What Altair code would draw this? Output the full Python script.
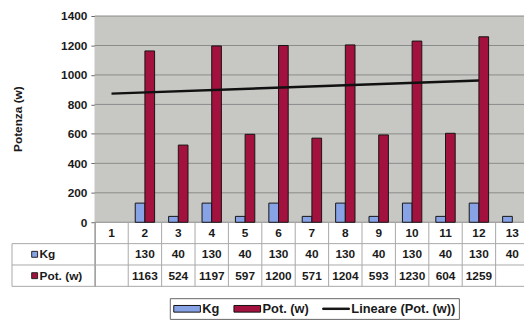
import altair as alt
import pandas as pd

# ---------------- data ----------------
categories = [1, 2, 3, 4, 5, 6, 7, 8, 9, 10, 11, 12, 13]
kg = [None, 130, 40, 130, 40, 130, 40, 130, 40, 130, 40, 130, 40]
pot = [None, 1163, 524, 1197, 597, 1200, 571, 1204, 593, 1230, 604, 1259, None]
y_ticks = [0, 200, 400, 600, 800, 1000, 1200, 1400]
series_names = ["Kg", "Pot. (w)", "Lineare (Pot. (w))"]
series_colors = ["#87a3e6", "#a3113f", "#111111"]
row_labels = ["Kg", "Pot. (w)"]

# ---------------- layout / style ----------------
FONT = "Liberation Sans"
PLOT_W = 435
PLOT_H = 274
X_MIN, X_MAX = 0.5, 13.35
Y_MIN, Y_MAX = -435, 1400
ROW = 145            # table row height in y units
HALF = 0.29          # bar width in category units
HEADER_LEFT = -1.98  # left edge of table header column (category units)
BG = "#c7c7c3"
GRID = "#8a8a8a"
TABLE_LINE = "#a8a8a8"

x_scale = alt.Scale(domain=[X_MIN, X_MAX], nice=False, zero=False)
y_scale = alt.Scale(domain=[Y_MIN, Y_MAX], nice=False, zero=False)
y_axis = alt.Axis(
    values=y_ticks, format="d", title="Potenza (w)", grid=False,
    domainColor="#8c8c8c", tickColor="#666666", tickSize=4, labelPadding=4,
    labelFont=FONT, labelFontSize=12, labelFontWeight="bold", labelColor="#1a1a1a",
    titleFont=FONT, titleFontSize=12, titleFontWeight="bold", titleColor="#1a1a1a",
    titleX=-71, titleY=104,
)
color_scale = alt.Scale(domain=series_names, range=series_colors)
legend = alt.Legend(
    orient="none", legendX=76, legendY=286, direction="horizontal", title=None,
    symbolType=alt.ExprRef(expr="datum.label == 'Lineare (Pot. (w))' ? 'M-2,-0.11H2V0.11H-2Z' : 'M-2,-0.5H2V0.5H-2Z'"),
    symbolSize=182, symbolStrokeColor="#111111", symbolStrokeWidth=1, symbolOpacity=1,
    symbolOffset=7, labelOffset=8,
    labelFont=FONT, labelFontSize=13, labelFontWeight="bold", labelColor="#1a1a1a",
    strokeColor="#666666", fillColor="white", padding=3, columnPadding=12,
)

def xq(field):
    return alt.X(field, type="quantitative", scale=x_scale, axis=None)

def yq(field):
    return alt.Y(field, type="quantitative", scale=y_scale, axis=y_axis)

# ---------------- tables ----------------
bars_df = pd.DataFrame({
    "cat": categories * 2,
    "value": kg + pot,
    "series": ["Kg"] * len(categories) + ["Pot. (w)"] * len(categories),
    "side": [-1] * len(categories) + [0] * len(categories),
})
pot_df = pd.DataFrame({"cat": categories, "pot": pot})

cells = []
for c, k, p in zip(categories, kg, pot):
    cells.append({"cat": c, "row": 0, "txt": str(c)})
    if k is not None:
        cells.append({"cat": c, "row": 1, "txt": str(k)})
    if p is not None:
        cells.append({"cat": c, "row": 2, "txt": str(p)})
cells_df = pd.DataFrame(cells)

header_df = pd.DataFrame({"series": row_labels, "row": [1, 2]})
vlines_df = pd.DataFrame({"xb": [c - 0.5 for c in categories] + [categories[-1] + 0.5]})
hlines_df = pd.DataFrame({"row": [1, 2, 3]})
grid_df = pd.DataFrame({"v": y_ticks})

# ---------------- layers ----------------
background = alt.Chart(pd.DataFrame({"a": [0]})).mark_rect(color=BG).encode(
    x=alt.value(0), x2=alt.value(PLOT_W),
    y=alt.Y(datum=Y_MAX, type="quantitative", scale=y_scale, axis=y_axis),
    y2=alt.Y2(datum=0),
)

grid = alt.Chart(grid_df).mark_rule(color=GRID, strokeWidth=1).encode(
    x=alt.value(0), x2=alt.value(PLOT_W), y=yq("v"),
)

bars = alt.Chart(bars_df).transform_filter("isValid(datum.value)").transform_calculate(
    x0=f"datum.cat + datum.side * {HALF}",
    x1=f"datum.cat + (datum.side + 1) * {HALF}",
).mark_bar(stroke="#141414", strokeWidth=1, opacity=1).encode(
    x=xq("x0"), x2="x1:Q",
    y=yq("value"), y2=alt.Y2(datum=0),
    color=alt.Color("series:N", scale=color_scale, legend=legend),
)

trend = alt.Chart(pot_df).transform_filter("isValid(datum.pot)").transform_regression(
    "cat", "pot", extent=[1, 12]
).mark_line(color="#111111", strokeWidth=2.5).encode(
    x=xq("cat"), y=yq("pot"),
)

vlines = alt.Chart(vlines_df).mark_rule(color=TABLE_LINE, strokeWidth=1).encode(
    x=xq("xb"), y=alt.Y(datum=0, type="quantitative", scale=y_scale, axis=y_axis),
    y2=alt.Y2(datum=-3 * ROW),
)

hlines = alt.Chart(hlines_df).transform_calculate(
    yy=f"-datum.row * {ROW}"
).mark_rule(color=TABLE_LINE, strokeWidth=1).encode(
    x=alt.X(datum=HEADER_LEFT, type="quantitative", scale=x_scale, axis=None),
    x2=alt.X2(datum=categories[-1] + 0.5),
    y=yq("yy"),
)

header_left = alt.Chart(pd.DataFrame({"a": [0]})).mark_rule(color=TABLE_LINE, strokeWidth=1).encode(
    x=alt.X(datum=HEADER_LEFT, type="quantitative", scale=x_scale, axis=None),
    y=alt.Y(datum=-ROW, type="quantitative", scale=y_scale, axis=y_axis),
    y2=alt.Y2(datum=-3 * ROW),
)

cell_text = alt.Chart(cells_df).transform_calculate(
    yc=f"-(datum.row + 0.5) * {ROW}"
).mark_text(font=FONT, fontSize=12, fontWeight="bold", color="#1a1a1a", baseline="middle").encode(
    x=xq("cat"), y=yq("yc"), text="txt:N",
)

header_swatch = alt.Chart(header_df).transform_calculate(
    yc=f"-(datum.row + 0.5) * {ROW}"
).mark_square(size=36, opacity=1, stroke="#222222", strokeWidth=1, filled=True).encode(
    x=alt.value(-61), y=yq("yc"),
    color=alt.Color("series:N", scale=color_scale, legend=legend),
)

header_text = alt.Chart(header_df).transform_calculate(
    yc=f"-(datum.row + 0.5) * {ROW}"
).mark_text(font=FONT, fontSize=12, fontWeight="bold", color="#1a1a1a", align="left", baseline="middle").encode(
    x=alt.value(-56), y=yq("yc"), text="series:N",
)

chart = alt.layer(
    background, grid, vlines, hlines, header_left, bars, trend,
    cell_text, header_swatch, header_text,
).properties(
    width=PLOT_W, height=PLOT_H,
    autosize=alt.AutoSizeParams(type="none"),
    padding={"left": 88, "top": 6, "right": 0, "bottom": 34},
    background="white",
).configure_view(stroke=None)

chart.save("out.html", embed_options={"renderer": "svg", "actions": False})
